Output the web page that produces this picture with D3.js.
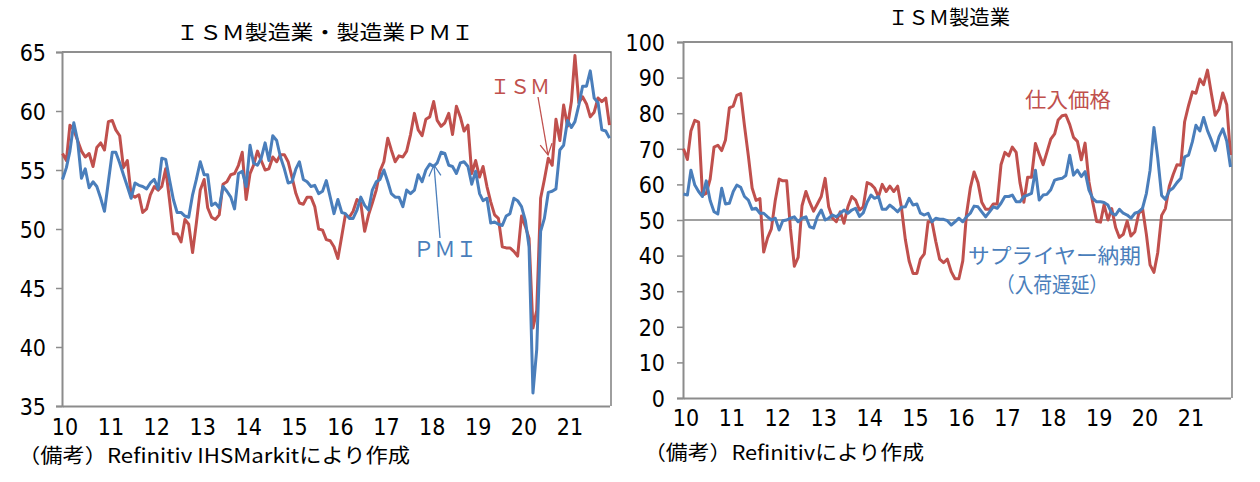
<!DOCTYPE html>
<html>
<head>
<meta charset="utf-8">
<script src="https://cdn.jsdelivr.net/npm/d3@7"></script>
<style>
  body { margin: 0; background: #fff; }
  .num { font-family: "Liberation Sans Narrow", "DejaVu Sans Condensed", "Liberation Sans", sans-serif; font-size: 23px; fill: #000; }
  .jp { font-family: "Noto Sans CJK JP", sans-serif; }
</style>
</head>
<body>
<svg id="chart" width="1260" height="482"></svg>
<script>
// monthly data, Jan 2010 - Dec 2021
const months = d3.timeMonth.range(new Date(2010, 0, 1), new Date(2022, 0, 1));

const ismPmi = [
  56.4, 55.8, 58.8, 58.4, 57.5, 56.6, 56.1, 56.4, 55.3, 56.9, 57.3, 56.7,
  59.1, 59.2, 58.4, 57.9, 55.2, 55.8, 52.9, 52.7, 52.9, 51.4, 51.7, 52.9,
  53.6, 53.3, 53.6, 55.1, 52.5, 49.6, 49.6, 48.9, 50.8, 50.4, 48.0, 50.5,
  53.3, 54.2, 51.8, 51.0, 50.8, 51.2, 53.8, 54.0, 54.6, 54.7, 55.4, 56.5,
  52.5, 54.7, 55.4, 56.6, 55.8, 55.0, 55.1, 56.1, 55.7, 56.3, 56.3, 55.7,
  54.4, 53.0, 52.2, 52.1, 52.7, 52.7, 51.9, 50.0, 49.9, 49.1, 49.0, 48.5,
  47.5, 49.4, 51.2, 51.0, 51.5, 52.5, 52.2, 49.8, 51.2, 52.2, 53.3, 54.9,
  55.7, 57.7, 56.7, 55.7, 56.2, 56.1, 56.6, 58.0, 59.8, 58.4, 57.9, 59.3,
  59.5, 60.8, 59.2, 58.7, 59.0, 59.8, 58.0, 60.4, 59.5, 58.3, 58.8, 54.7,
  55.8, 54.4, 55.3, 53.6, 52.3, 51.2, 50.9, 48.5, 48.4, 48.4, 48.1, 47.7,
  51.1, 50.2, 49.2, 41.6, 43.1, 52.6, 54.2, 56.0, 55.4, 59.3, 57.5, 60.5,
  58.7, 60.8, 64.7, 60.7, 61.2, 60.6, 59.5, 59.9, 61.1, 60.8, 61.1, 58.8
];

const markitPmi = [
  54.2, 55.2, 56.6, 59.0, 57.5, 54.3, 55.1, 53.5, 54.0, 53.6, 52.6, 51.5,
  54.0, 56.5, 56.5, 55.6, 54.6, 53.6, 52.6, 53.9, 53.7, 53.6, 53.4, 53.9,
  54.2, 53.4, 56.0, 55.9, 54.2, 52.5, 51.4, 51.4, 51.1, 51.0, 52.9, 54.2,
  55.7, 54.6, 54.6, 52.0, 52.2, 51.8, 53.6, 53.2, 52.7, 51.7, 54.7, 54.9,
  53.6, 57.1, 55.6, 55.4, 56.0, 57.3, 55.8, 57.9, 57.5, 56.1, 55.1, 53.9,
  54.0, 55.1, 55.7, 54.2, 54.0, 53.6, 53.7, 53.0, 53.2, 54.1, 52.7, 51.3,
  52.5, 51.4, 51.3, 50.9, 50.9, 51.6, 52.7, 52.0, 51.6, 53.3, 54.0, 54.2,
  55.0, 54.0, 53.0, 52.7, 52.7, 51.9, 53.3, 53.0, 53.3, 54.6, 54.0, 55.0,
  55.5, 55.3, 55.6, 56.5, 56.4, 55.4, 55.3, 54.7, 55.6, 55.7, 55.3, 53.8,
  54.9, 53.0, 52.4, 52.6, 50.5, 50.6, 50.4, 50.3, 51.1, 51.3, 52.6, 52.4,
  51.9, 50.7, 48.5, 36.1, 39.8, 49.8, 50.9, 53.1, 53.2, 53.4, 56.7, 57.1,
  59.2, 58.6, 59.1, 60.5, 62.1, 62.1, 63.4, 61.1, 60.7, 58.4, 58.3, 57.7
];

const ismPrices = [
  70.0, 67.0, 75.0, 78.0, 77.5, 57.0, 57.5, 61.5, 70.5, 71.0, 69.5, 72.5,
  81.5, 82.0, 85.0, 85.5, 76.5, 68.0, 59.0, 55.5, 56.0, 41.0, 45.0, 47.5,
  55.5, 61.5, 61.0, 61.0, 47.5, 37.0, 39.5, 54.0, 58.0, 55.0, 52.5, 54.5,
  56.6, 61.7, 53.7, 50.5, 49.5, 52.3, 49.1, 53.7, 56.6, 55.6, 52.8, 53.7,
  60.5, 60.0, 59.0, 56.5, 60.0, 58.0, 59.5, 58.0, 59.5, 53.5, 44.5, 38.5,
  35.0, 35.0, 39.0, 40.5, 49.5, 49.5, 44.0, 39.0, 38.0, 39.0, 35.5, 33.5,
  33.5, 38.5, 51.5, 59.0, 63.5, 60.5, 55.0, 53.0, 53.0, 54.5, 54.5, 65.5,
  69.0, 68.0, 70.5, 69.0, 60.5, 55.0, 62.0, 62.0, 71.5, 68.5, 65.5, 69.0,
  72.7, 74.2, 78.1, 79.3, 79.5, 76.8, 73.2, 72.1, 66.9, 71.6, 60.7, 54.9,
  49.6, 49.4, 54.3, 50.0, 53.2, 47.9, 45.1, 46.0, 49.7, 45.5, 46.7, 51.7,
  53.3, 45.9, 37.4, 35.3, 40.8, 51.3, 53.2, 59.5, 62.8, 65.5, 65.4, 77.6,
  82.1, 86.0, 85.6, 89.6, 88.0, 92.1, 85.7, 79.4, 81.2, 85.7, 82.4, 68.2
];

const ismDeliveries = [
  57.3, 57.0, 64.0, 59.8, 58.0, 56.6, 61.0, 55.5, 52.3, 51.7, 58.9, 54.5,
  54.7, 58.0, 59.8, 59.2, 56.6, 55.6, 53.0, 53.3, 51.9, 51.9, 50.9, 50.0,
  50.5, 47.2, 49.8, 50.0, 50.5, 50.9, 49.5, 50.5, 50.9, 48.1, 47.7, 50.9,
  52.8, 50.0, 50.5, 51.4, 50.9, 51.9, 52.8, 51.9, 52.8, 53.3, 51.0, 52.0,
  55.0, 57.0, 56.1, 56.6, 53.0, 53.0, 54.2, 53.3, 52.3, 53.6, 53.7, 56.1,
  54.2, 54.5, 51.9, 51.4, 51.9, 49.5, 50.5, 50.2, 50.2, 49.8, 48.6, 49.5,
  50.5, 49.5, 50.9, 51.9, 53.9, 53.7, 52.3, 50.9, 52.3, 53.7, 53.3, 54.7,
  56.6, 56.6, 57.0, 55.1, 55.1, 56.6, 57.0, 57.5, 64.0, 55.6, 57.0, 57.2,
  58.5, 61.2, 61.5, 61.7, 62.5, 68.2, 62.6, 64.0, 62.2, 63.6, 58.4, 56.1,
  55.1, 55.1, 54.9, 54.2, 51.9, 51.4, 53.0, 51.9, 51.4, 50.5, 51.9, 52.3,
  53.3, 57.5, 64.0, 76.0, 67.5, 56.9, 55.8, 58.2, 59.0, 60.5, 61.7, 67.7,
  68.2, 72.0, 76.6, 75.0, 78.8, 75.1, 72.5, 69.5, 73.4, 75.6, 72.2, 64.9
];

const leftTicks = [35, 40, 45, 50, 55, 60, 65];
const rightTicks = [0, 10, 20, 30, 40, 50, 60, 70, 80, 90, 100];
const yearTicks = d3.timeYear.range(new Date(2010, 0, 1), new Date(2022, 0, 1));

const red = "#C0504D";
const blue = "#4A7EBB";

const svg = d3.select("#chart");

svg.append("defs").selectAll("marker")
    .data([["arrowRed", red], ["arrowBlue", blue]])
    .join("marker")
    .attr("id", d => d[0])
    .attr("markerUnits", "userSpaceOnUse")
    .attr("viewBox", "-12 -7 14 14")
    .attr("markerWidth", 14)
    .attr("markerHeight", 14)
    .attr("refX", 0)
    .attr("refY", 0)
    .attr("orient", "auto")
    .append("path")
    .attr("d", "M-11,-6 L0,0 L-11,6")
    .attr("fill", "none")
    .attr("stroke", d => d[1])
    .attr("stroke-width", 1.3);

function drawPanel(p) {
    const g = svg.append("g");

    const x = d3.scaleTime()
        .domain([months[0], months[months.length - 1]])
        .range([p.left + 0.5, p.right - 1.5]);
    const y = d3.scaleLinear()
        .domain(p.yDomain)
        .range([p.bottom, p.top]);

    // frame (top and right)
    g.append("path")
        .attr("d", `M${p.left},${p.top} H${p.right} V${p.bottom}`)
        .attr("fill", "none")
        .attr("stroke", "#6b6b6b")
        .attr("stroke-width", 1.3);

    // reference line
    if (p.refLine != null) {
        g.append("line")
            .attr("x1", p.left).attr("x2", p.right)
            .attr("y1", y(p.refLine)).attr("y2", y(p.refLine))
            .attr("stroke", "#808080")
            .attr("stroke-width", 1.5);
    }

    // y axis
    const ya = g.append("g")
        .attr("transform", `translate(${p.left},0)`)
        .call(d3.axisLeft(y).tickValues(p.yTicks).tickSize(6).tickPadding(p.yPad).tickFormat(d3.format("d")));
    ya.select(".domain").attr("stroke", "#8c8c8c").attr("stroke-width", 2);
    ya.selectAll(".tick line").attr("stroke", "#8c8c8c").attr("stroke-width", 1.5);
    ya.selectAll(".tick text").attr("class", "num").attr("dy", "0.36em");

    // x axis
    const xa = g.append("g")
        .attr("transform", `translate(0,${p.bottom})`)
        .call(d3.axisBottom(x).tickValues(yearTicks).tickSize(0).tickPadding(p.xPad).tickFormat(d3.timeFormat("%y")));
    xa.select(".domain").attr("stroke", "#8c8c8c").attr("stroke-width", 2);
    xa.selectAll(".tick text").attr("class", "num").attr("dx", 2);

    // lines
    const line = d3.line()
        .x((d, i) => x(months[i]))
        .y(d => y(d));
    p.series.forEach(s => {
        g.append("path")
            .datum(s.data)
            .attr("d", line)
            .attr("fill", "none")
            .attr("stroke", s.color)
            .attr("stroke-width", 3)
            .attr("stroke-linejoin", "round");
    });

    // title
    g.append("text")
        .attr("class", "jp")
        .attr("x", p.title.x).attr("y", p.title.y)
        .attr("font-size", 20)
        .attr("textLength", p.title.w)
        .attr("lengthAdjust", "spacingAndGlyphs")
        .text(p.title.text);

    // caption
    g.append("text")
        .attr("class", "jp")
        .attr("x", p.caption.x).attr("y", p.caption.y)
        .attr("font-size", 20)
        .attr("textLength", p.caption.w)
        .attr("lengthAdjust", "spacingAndGlyphs")
        .text(p.caption.text);

    // labels
    p.labels.forEach(l => {
        g.append("text")
            .attr("class", "jp")
            .attr("x", l.x).attr("y", l.y)
            .attr("font-size", l.size)
            .attr("fill", l.color)
            .attr("textLength", l.w)
            .attr("lengthAdjust", "spacingAndGlyphs")
            .text(l.text);
    });

    (p.arrows || []).forEach(a => {
        g.append("line")
            .attr("x1", a.x1).attr("y1", a.y1)
            .attr("x2", a.x2).attr("y2", a.y2)
            .attr("stroke", a.color)
            .attr("stroke-width", 1.3)
            .attr("marker-end", `url(#${a.marker})`);
    });
}

drawPanel({
    left: 62, right: 611, top: 52, bottom: 406,
    yDomain: [35, 65], yTicks: leftTicks, yPad: 10, xPad: 13,
    series: [{ data: ismPmi, color: red }, { data: markitPmi, color: blue }],
    title: { text: "ＩＳＭ製造業・製造業ＰＭＩ", x: 176, y: 40, w: 298 },
    caption: { text: "（備考）Refinitiv IHSMarkitにより作成", x: 18, y: 463, w: 392 },
    labels: [
        { text: "ＩＳＭ", x: 490, y: 94, size: 20, color: red, w: 60 },
        { text: "ＰＭＩ", x: 413, y: 257, size: 22, color: blue, w: 64 }
    ],
    arrows: [
        { x1: 538, y1: 97, x2: 548, y2: 155, color: red, marker: "arrowRed" },
        { x1: 440, y1: 238, x2: 434, y2: 165, color: blue, marker: "arrowBlue" }
    ]
});

drawPanel({
    left: 683, right: 1232, top: 42, bottom: 398,
    yDomain: [0, 100], yTicks: rightTicks, yPad: 12, xPad: 12,
    refLine: 50,
    series: [{ data: ismPrices, color: red }, { data: ismDeliveries, color: blue }],
    title: { text: "ＩＳＭ製造業", x: 888, y: 25, w: 122 },
    caption: { text: "（備考）Refinitivにより作成", x: 644, y: 460, w: 280 },
    labels: [
        { text: "仕入価格", x: 1025, y: 107, size: 21, color: red, w: 86 },
        { text: "サプライヤー納期", x: 968, y: 263, size: 21, color: blue, w: 173 },
        { text: "（入荷遅延）", x: 996, y: 292, size: 21, color: blue, w: 112 }
    ]
});
</script>
</body>
</html>
